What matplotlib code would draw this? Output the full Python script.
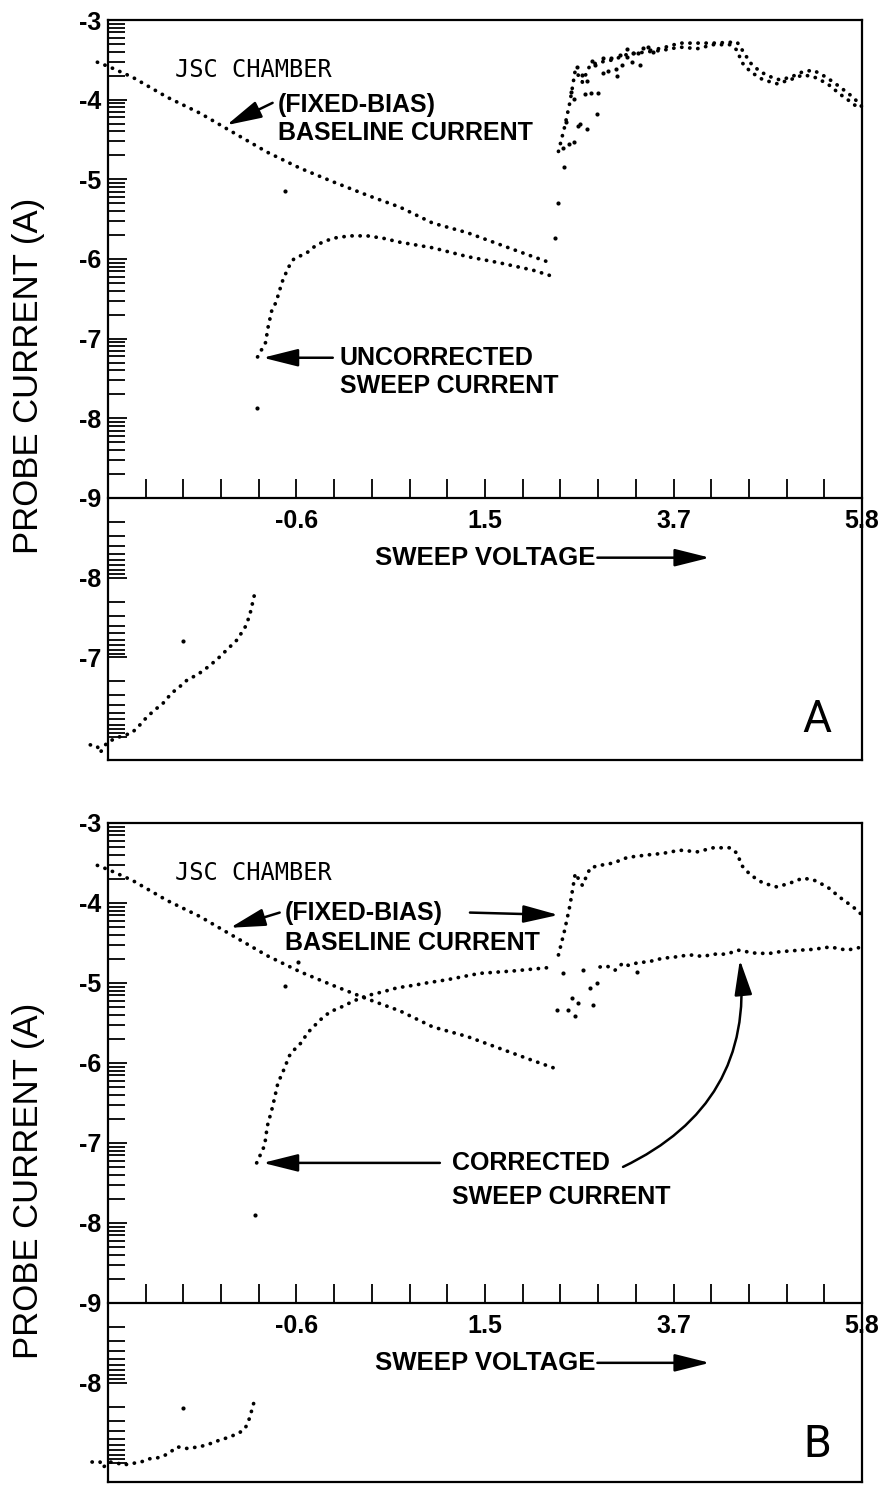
import numpy as np
import matplotlib
matplotlib.use('Agg')
import matplotlib.pyplot as plt

plt.rcParams['font.family'] = ['Liberation Sans', 'DejaVu Sans']

# ---- data: sweep voltage (V) and log10 probe current ----
# fixed-bias baseline (same trace in both panels)
base_left_v = [-2.85, -2.71, -2.45, -2.06, -1.69, -1.35, -0.93, -0.56, -0.19, 0.20,
               0.57, 0.94, 1.33, 1.70, 2.07, 2.30]
base_left_i = [-3.53, -3.59, -3.72, -3.97, -4.17, -4.39, -4.66, -4.86, -5.03, -5.20,
               -5.35, -5.55, -5.67, -5.82, -5.97, -6.06]
base_right_v = [2.36, 2.43, 2.49, 2.55, 2.63, 2.72, 2.83, 2.98, 3.14, 3.36, 3.54, 3.73,
                3.93, 4.11, 4.30, 4.38, 4.43, 4.53, 4.67, 4.83, 4.98, 5.12, 5.24, 5.40,
                5.54, 5.69, 5.77]
base_right_i = [-4.65, -4.34, -4.03, -3.63, -3.78, -3.56, -3.53, -3.50, -3.43, -3.40,
                -3.38, -3.34, -3.36, -3.31, -3.31, -3.38, -3.53, -3.65, -3.75, -3.80,
                -3.75, -3.69, -3.71, -3.80, -3.93, -4.05, -4.13]

# panel A: uncorrected sweep current
uncor_v = [-1.05, -1.04, -0.95, -0.92, -0.88, -0.83, -0.79, -0.75, -0.67, -0.63, -0.48,
           -0.37, -0.19, 0.00, 0.20, 0.38, 0.57, 0.94, 1.33, 1.70, 2.07, 2.30]
uncor_i = [-7.87, -7.23, -7.05, -6.85, -6.65, -6.54, -6.39, -6.25, -6.06, -6.00, -5.92,
           -5.82, -5.74, -5.71, -5.71, -5.74, -5.79, -5.86, -5.97, -6.05, -6.14, -6.22]
uncor_jump_v = [2.32, 2.36, 2.42, 2.41, 2.48, 2.54, 2.45, 2.58, 2.60, 2.68, 2.80, 2.50,
                2.54, 2.66, 2.73, 2.81, 2.57, 2.63, 2.68, 2.74, 2.77, 2.86, 2.86, 2.92,
                2.95, 3.01, 3.02, 3.06, 3.08, 3.14, 3.14, 3.19, 3.20, 3.26, 3.28, 3.32,
                3.37, 3.43, -0.73]
uncor_jump_i = [-5.74, -5.30, -4.84, -4.61, -4.56, -4.53, -4.28, -4.33, -4.30, -4.37,
                -4.18, -3.90, -3.99, -3.93, -3.92, -3.92, -3.59, -3.69, -3.77, -3.51,
                -3.56, -3.48, -3.67, -3.64, -3.48, -3.61, -3.70, -3.44, -3.56, -3.36,
                -3.46, -3.53, -3.41, -3.41, -3.56, -3.35, -3.34, -3.40, -5.15]
uncor_right_v = [3.40, 3.54, 3.73, 3.93, 4.11, 4.30, 4.38, 4.45, 4.53, 4.64, 4.79, 4.86,
                 4.98, 5.12, 5.24, 5.39, 5.54, 5.69, 5.79]
uncor_right_i = [-3.38, -3.35, -3.29, -3.29, -3.29, -3.28, -3.28, -3.40, -3.54, -3.65,
                 -3.73, -3.75, -3.72, -3.65, -3.63, -3.72, -3.84, -3.97, -4.09]
# panel A: opposite-sign part (lower section)
uncor_low_v = [-2.93, -2.85, -2.82, -2.74, -2.63, -2.46, -2.37, -2.29, -2.20, -2.11,
               -2.01, -1.92, -1.83, -1.72, -1.61, -1.50, -1.39, -1.27, -1.18, -1.13, -1.07]
uncor_low_i = [-5.90, -5.88, -5.80, -5.93, -5.99, -6.05, -6.15, -6.25, -6.34, -6.42,
               -6.55, -6.63, -6.72, -6.78, -6.87, -6.97, -7.09, -7.22, -7.38, -7.52, -7.81]
uncor_low_out_v = [-1.88]
uncor_low_out_i = [-7.21]

# panel B: corrected sweep current
cor_v = [-1.07, -1.05, -0.96, -0.93, -0.88, -0.85, -0.81, -0.76, -0.68, -0.63, -0.54,
         -0.48, -0.41, -0.33, -0.22, -0.11, 0.00, 0.12, 0.23, 0.38, 0.54, 0.72, 0.87,
         1.10, 1.47, 1.85, 2.23, 2.29]
cor_i = [-7.90, -7.25, -7.03, -6.79, -6.59, -6.45, -6.25, -6.13, -5.91, -5.84, -5.74,
         -5.63, -5.55, -5.46, -5.36, -5.31, -5.25, -5.19, -5.15, -5.11, -5.06, -5.03,
         -5.00, -4.96, -4.88, -4.85, -4.81, -4.83]
cor_jump_v = [2.34, 2.47, 2.55, 2.51, 2.58, 2.75, 2.72, 2.80, 2.41, 2.64, 3.25, -0.58, -0.73]
cor_jump_i = [-5.34, -5.34, -5.41, -5.19, -5.25, -5.28, -5.06, -5.00, -4.88, -4.84, -4.86,
              -4.74, -5.04]
cor_right_v = [2.83, 2.91, 3.00, 3.09, 3.15, 3.28, 3.36, 3.47, 3.54, 3.65, 3.77, 3.88,
               3.99, 4.11, 4.26, 4.39, 4.49, 4.60, 4.75, 4.86, 5.09, 5.24, 5.43, 5.62, 5.75]
cor_right_i = [-4.80, -4.79, -4.84, -4.75, -4.78, -4.74, -4.74, -4.71, -4.69, -4.68,
               -4.66, -4.65, -4.67, -4.64, -4.64, -4.59, -4.61, -4.63, -4.63, -4.61,
               -4.59, -4.58, -4.55, -4.59, -4.56]
cor_low_v = [-2.91, -2.82, -2.79, -2.71, -2.63, -2.56, -2.48, -2.40, -2.33, -2.26, -2.18,
             -2.11, -2.03, -1.95, -1.84, -1.77, -1.69, -1.61, -1.54, -1.46, -1.39, -1.32,
             -1.24, -1.18, -1.13, -1.07]
cor_low_i = [-7.01, -7.01, -6.94, -7.01, -7.00, -6.97, -6.99, -7.00, -7.02, -7.05, -7.06,
             -7.08, -7.13, -7.20, -7.18, -7.19, -7.20, -7.23, -7.25, -7.29, -7.31, -7.34,
             -7.38, -7.43, -7.56, -7.80]
cor_low_out_v = [-1.88]
cor_low_out_i = [-7.69]

# axis layout
v_min, v_max = -2.73, 5.79
xlabel_txt = ['-0.6', '1.5', '3.7', '5.8']


def lower(vals):
    # the opposite-sign current is plotted mirrored below the -9 axis line
    return -18 - np.asarray(vals)


def dots(ax, x, y):
    ax.plot(x, y, color='k', lw=2.7, ls=(0, (0.05, 2.1)), dash_capstyle='round',
            clip_on=False)


def pts(ax, x, y):
    ax.plot(x, y, 'o', color='k', ms=3.0, mew=0, clip_on=False)


def arrow(ax, tail, tip, rad=0.0):
    ax.annotate('', xy=tip, xytext=tail,
                arrowprops=dict(arrowstyle='-|>,head_length=1.2,head_width=0.3',
                                mutation_scale=18, lw=1.8, color='k',
                                shrinkA=0, shrinkB=0,
                                connectionstyle='arc3,rad=%g' % rad))


def setup(ax, ybot, low_labels):
    ax.set_xlim(v_min, v_max)
    ax.set_ylim(ybot, -3)
    for s in ax.spines.values():
        s.set_linewidth(1.6)
    ax.spines['bottom'].set_position(('data', -9))
    ax.plot([0, 1], [0, 0], transform=ax.transAxes, color='k', lw=1.6, clip_on=False)

    xt = np.linspace(v_min, v_max, 21)[1:]
    xl = [''] * len(xt)
    for k, t in enumerate(xlabel_txt):
        xl[5 * k + 4] = t
    ax.set_xticks(xt, xl)

    maj = list(range(-3, -10, -1))
    labs = [str(m) for m in maj]
    for k, t in enumerate(low_labels):
        maj.append(-10 - k)
        labs.append(t)
    ax.set_yticks(maj, labs)
    minor = []
    for d in range(-3, -9, -1):
        minor += [d - 1 + np.log10(k) for k in range(2, 10)]
    for d in range(-9, -13, -1):
        minor += [d - np.log10(k) for k in range(2, 10)]
    minor = [m for m in minor if m > ybot]
    ax.set_yticks(minor, minor=True)

    ax.tick_params(axis='y', which='both', direction='in', width=1.3, labelsize=18, pad=5)
    ax.tick_params(axis='y', which='major', length=14)
    ax.tick_params(axis='y', which='minor', length=12)
    ax.tick_params(axis='x', direction='in', length=14, width=1.3, labelsize=18, pad=8)
    for lbl in ax.get_xticklabels() + ax.get_yticklabels():
        lbl.set_fontweight('bold')

    ax.text(-0.106, -7.47, 'PROBE CURRENT (A)', rotation=90, fontsize=25,
            transform=ax.get_yaxis_transform(), ha='center', va='center')
    ax.text(-1.97, -3.63, 'JSC CHAMBER', family='DejaVu Sans Mono', fontsize=17,
            va='center')
    ax.text(0.29, -9.75, 'SWEEP VOLTAGE', fontsize=18.5, fontweight='bold', va='center')
    arrow(ax, (2.80, -9.75), (4.07, -9.75))


fig = plt.figure(figsize=(8.89, 14.85), dpi=100)
W, H = 889, 1485


def px_axes(left, top, right, bottom):
    return fig.add_axes([left / W, 1 - bottom / H, (right - left) / W, (bottom - top) / H])


# ---- panel A ----
axA = px_axes(108, 20, 862, 760)
setup(axA, -12.29, ['-8', '-7', ''])
dots(axA, base_left_v, base_left_i)
dots(axA, base_right_v, base_right_i)
dots(axA, uncor_v[1:], uncor_i[1:])
pts(axA, uncor_v[:1], uncor_i[:1])
pts(axA, uncor_jump_v, uncor_jump_i)
dots(axA, uncor_right_v, uncor_right_i)
dots(axA, uncor_low_v, lower(uncor_low_i))
pts(axA, uncor_low_out_v, lower(uncor_low_out_i))

axA.text(-0.81, -4.07, '(FIXED-BIAS)', fontsize=18, fontweight='bold', va='center')
axA.text(-0.81, -4.42, 'BASELINE CURRENT', fontsize=18, fontweight='bold', va='center')
arrow(axA, (-0.87, -4.04), (-1.39, -4.32))
axA.text(-0.11, -7.24, 'UNCORRECTED', fontsize=18, fontweight='bold', va='center')
axA.text(-0.11, -7.60, 'SWEEP CURRENT', fontsize=18, fontweight='bold', va='center')
arrow(axA, (-0.19, -7.24), (-0.98, -7.24))
axA.text(0.94, 0.054, 'A', transform=axA.transAxes, fontsize=32, family='Roboto',
         ha='center', va='center')

# ---- panel B ----
axB = px_axes(108, 823, 862, 1482)
setup(axB, -11.24, ['-8', ''])
dots(axB, base_left_v, base_left_i)
dots(axB, base_right_v, base_right_i)
dots(axB, cor_v[1:], cor_i[1:])
pts(axB, cor_v[:1], cor_i[:1])
pts(axB, cor_jump_v, cor_jump_i)
dots(axB, cor_right_v, cor_right_i)
dots(axB, cor_low_v, lower(cor_low_i))
pts(axB, cor_low_out_v, lower(cor_low_out_i))

axB.text(-0.73, -4.12, '(FIXED-BIAS)', fontsize=18, fontweight='bold', va='center')
axB.text(-0.73, -4.50, 'BASELINE CURRENT', fontsize=18, fontweight='bold', va='center')
arrow(axB, (-0.79, -4.12), (-1.35, -4.31))
arrow(axB, (1.36, -4.12), (2.36, -4.15))
axB.text(1.16, -7.25, 'CORRECTED', fontsize=18, fontweight='bold', va='center')
axB.text(1.16, -7.68, 'SWEEP CURRENT', fontsize=18, fontweight='bold', va='center')
arrow(axB, (1.02, -7.25), (-0.98, -7.25))
arrow(axB, (3.09, -7.30), (4.41, -4.71), rad=0.35)
axB.text(0.94, 0.056, 'B', transform=axB.transAxes, fontsize=32, family='Roboto',
         ha='center', va='center')

fig.savefig('out.png', dpi=100)
